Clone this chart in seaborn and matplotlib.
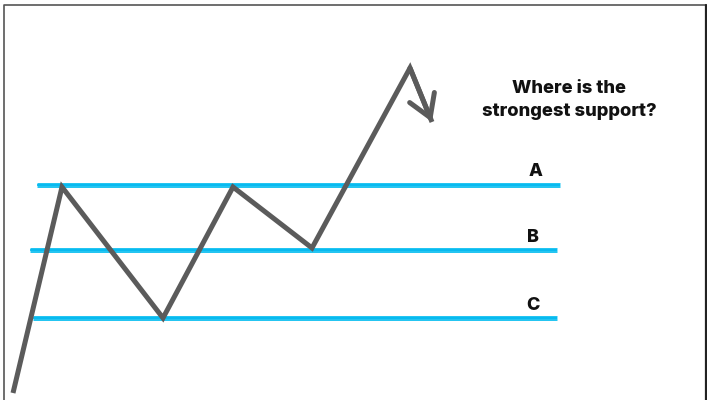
import pandas as pd
import matplotlib.pyplot as plt
import seaborn as sns

# price path (pixel-like coordinates, y grows downward)
path_x = [13, 62, 163, 233, 312, 410, 432]
path_y = [393, 187, 318, 187, 248, 68, 122]

# support levels
level_names = ["A", "B", "C"]
level_y = [185, 250, 318]
level_x0 = [37, 30, 33]
level_x1 = [560, 557, 557]

question = "Where is the\nstrongest support?"

sns.set_theme(style="white")
plt.rcParams["font.family"] = ["Inter", "DejaVu Sans"]

fig = plt.figure(figsize=(7.07, 4.0), dpi=100)
ax = fig.add_axes([0, 0, 1, 1])

# cyan brush lines
for name, y, x0, x1 in zip(level_names, level_y, level_x0, level_x1):
    lvl = pd.DataFrame({"x": [x0, x1], "y": [y, y]})
    sns.lineplot(data=lvl, x="x", y="y", ax=ax, color="#0dbff0",
                 linewidth=3.6, solid_capstyle="butt", alpha=0.9)
    sns.lineplot(data=lvl, x="x", y="y", ax=ax, color="#00b8f0",
                 linewidth=1.4, solid_capstyle="butt", alpha=0.8)
    ax.text(x1 - 24, y - 13, name, ha="center", va="center",
            fontsize=13, fontweight="heavy", color="#111111")

# zigzag price line
df = pd.DataFrame({"x": path_x, "y": path_y})
sns.lineplot(data=df, x="x", y="y", ax=ax, sort=False, color="#5b5b5b",
             linewidth=3.6, solid_joinstyle="miter", solid_capstyle="butt")
ax.annotate("", xy=(path_x[-1], path_y[-1]),
            xytext=(path_x[-2], path_y[-2]),
            arrowprops=dict(arrowstyle="->, head_length=1.3, head_width=0.8",
                            color="#5b5b5b", lw=3.6, shrinkA=0, shrinkB=0,
                            joinstyle="miter"))

ax.text(569, 100, question, ha="center", va="center", fontsize=13.2,
        fontweight="heavy", color="#111111", linespacing=1.45)

# frame
ax.plot([4, 4, 706], [400, 5, 5], color="#555555", linewidth=1.2)
ax.plot([705.5, 705.5], [5, 400], color="#222222", linewidth=1.6)

ax.set_xlim(0, 707)
ax.set_ylim(400, 0)
ax.axis("off")

fig.savefig("out.png", dpi=100)
